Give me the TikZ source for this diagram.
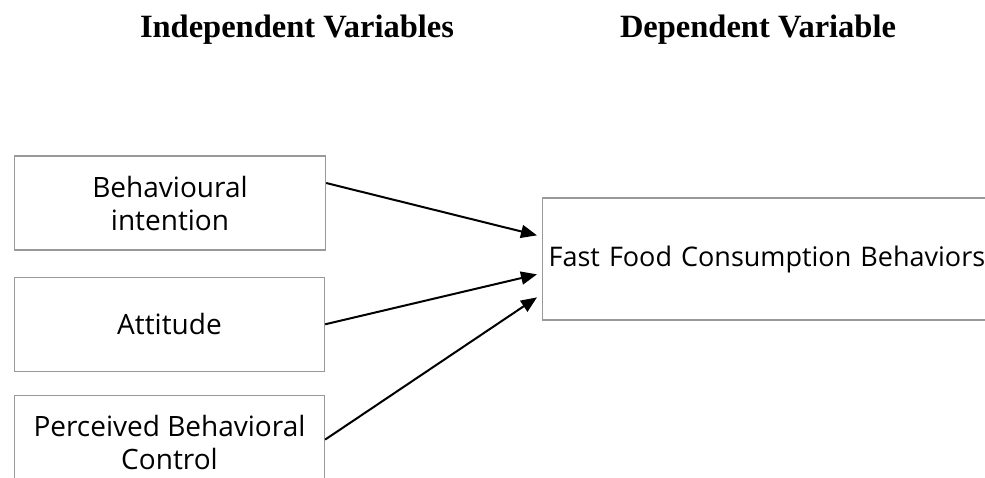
\documentclass[tikz,border=0pt]{standalone}
\usepackage{fontspec}
\setmainfont{Liberation Serif}
\newfontfamily\boxfont{Open Sans}
\usetikzlibrary{arrows.meta}
\usetikzlibrary{positioning}

\tikzset{
    varbox/.style={draw=black!40, line width=1.3pt, minimum width=311pt, minimum height=94pt,
        align=center, font=\boxfont\fontsize{28}{33}\selectfont},
    heading/.style={anchor=base, font=\bfseries\fontsize{32.5}{36}\selectfont},
    link/.style={line width=2pt, -{Triangle[length=16pt,width=13pt]}},
}

\begin{document}
\begin{tikzpicture}[x=1pt, y=-1pt]
        \clip (0,0) rectangle (985,477);
        % column headings
        \node[heading] (indep) at (297,37) {Independent Variables};
        \node[heading] (dep) at (758,37) {Dependent Variable};

        % independent variables, stacked on the left
        \node[varbox] (bi) at (170,203) {Behavioural\\intention};
        \node[varbox, below=26pt of bi.south west, anchor=north west, minimum width=310pt] (att) {Attitude};
        \node[varbox, below=23pt of att.south west, anchor=north west, minimum width=310pt] (pbc) {Perceived Behavioral\\Control};

        % dependent variable, runs off the right edge
        \node[varbox, anchor=west, minimum width=480pt, minimum height=122pt, text width=468pt,
            inner xsep=6pt, align=left, font=\boxfont\fontsize{27}{32}\selectfont] (ffc) at (542,259)
            {Fast Food Consumption Behaviors};

        \draw[link] ([yshift=20pt]bi.east) -- ([xshift=-5pt,yshift=-38pt]ffc.north west);
        \draw[link] (att.east) -- ([xshift=-5pt,yshift=-77pt]ffc.north west);
        \draw[link] ([yshift=3pt]pbc.east) -- ([xshift=-5pt,yshift=-100pt]ffc.north west);
    \end{tikzpicture}
\end{document}
